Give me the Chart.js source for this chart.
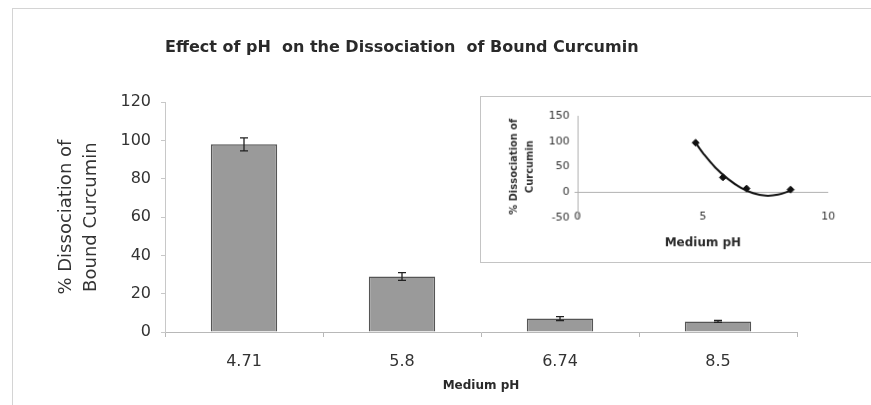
<!DOCTYPE html>
<html>
<head>
<meta charset="utf-8">
<script src="https://cdn.jsdelivr.net/npm/chart.js@4.4.1/dist/chart.umd.min.js"></script>
<style>
  body { margin: 0; background: #fff; }
  #wrap { position: relative; width: 871px; height: 405px; overflow: hidden; }
  #frame { position: absolute; left: 12px; top: 8px; width: 900px; height: 440px; border: 1px solid #d4d4d4; }
  #main { position: absolute; left: 0; top: 0; }
  #inset { position: absolute; left: 480px; top: 96px; background: #fff; border: 1px solid #c4c4c4; }
</style>
</head>
<body>
<div id="wrap">
  <div id="frame"></div>
  <canvas id="main" width="871" height="405"></canvas>
  <canvas id="inset" width="392" height="167"></canvas>
</div>
<script>
'use strict';
// main bars
let phLabels = ['4.71', '5.8', '6.74', '8.5']
let dissociation = [98, 29, 7, 5.5]
let errors = [3.4, 2, 1, 0.5]
let yTicks = [0, 20, 40, 60, 80, 100, 120]

let insetPh = [4.71, 5.8, 6.74, 8.5]
let insetVals = [97, 29, 7, 5]
let trendPh = [4.71, 5.0, 5.5, 6.0, 6.5, 7.0, 7.5, 8.0, 8.5]
let trendVals = [97, 77, 48, 26, 9, -2, -7, -5, 3]

let font = '"DejaVu Sans", Arial, sans-serif'

const errorBars = {
  id: 'errorBars',
  afterDatasetsDraw(chart) {
    let ctx = chart.ctx
    let y = chart.scales.y
    let meta = chart.getDatasetMeta(0)
    ctx.save()
    ctx.strokeStyle = '#222'
    ctx.lineWidth = 1.3
    meta.data.forEach((bar, i) => {
      let top = y.getPixelForValue(dissociation[i] + errors[i])
      let bot = y.getPixelForValue(dissociation[i] - errors[i])
      ctx.beginPath()
      ctx.moveTo(bar.x, top); ctx.lineTo(bar.x, bot)
      ctx.moveTo(bar.x - 4, top); ctx.lineTo(bar.x + 4, top)
      ctx.moveTo(bar.x - 4, bot); ctx.lineTo(bar.x + 4, bot)
      ctx.stroke()
    })
    ctx.restore()
  }
}

new Chart(document.getElementById('main'), {
  type: 'bar',
  data: {
    labels: phLabels,
    datasets: [{
      data: dissociation,
      backgroundColor: '#9a9a9a',
      borderColor: '#555',
      borderWidth: 1.5,
      categoryPercentage: 1,
      barPercentage: 0.42
    }]
  },
  options: {
    responsive: false,
    animation: false,
    layout: { padding: { left: 15, right: 74, bottom: 8 } },
    plugins: {
      legend: { display: false },
      tooltip: { enabled: false },
      title: {
        display: true,
        text: 'Effect of pH  on the Dissociation  of Bound Curcumin',
        align: 'start',
        fullSize: false,
        color: '#2a2a2a',
        font: { family: font, size: 16, weight: 'bold' },
        padding: { top: 38, bottom: 45 }
      }
    },
    scales: {
      x: {
        grid: { offset: true, drawOnChartArea: false, tickLength: 5, color: '#b8b8b8' },
        border: { color: '#b8b8b8' },
        ticks: { color: '#333', font: { family: font, size: 16 }, padding: 15 },
        title: {
          display: true, text: 'Medium pH', color: '#2a2a2a',
          font: { family: font, size: 12, weight: 'bold' }, padding: { top: 9 }
        },
        afterFit: s => { s.height = 65 }
      },
      y: {
        min: 0, max: 120,
        afterBuildTicks: s => { s.ticks = yTicks.map(v => ({ value: v })) },
        grid: { drawOnChartArea: false, tickLength: 4, color: '#c8c8c8' },
        border: { color: '#c8c8c8' },
        ticks: { color: '#333', font: { family: font, size: 16 }, padding: 10 },
        title: {
          display: true, text: ['% Dissociation of', 'Bound Curcumin'], color: '#333',
          font: { family: font, size: 18, lineHeight: 1.4 }, padding: { top: 39, bottom: 0 }
        },
        afterFit: s => { s.width = 150 }
      }
    }
  },
  plugins: [errorBars]
})

new Chart(document.getElementById('inset'), {
  type: 'scatter',
  data: {
    datasets: [{
      data: insetPh.map((p, i) => ({ x: p, y: insetVals[i] })),
      pointStyle: 'rectRot',
      pointRadius: 3.5,
      backgroundColor: '#111',
      borderColor: '#111',
      showLine: false
    }, {
      data: trendPh.map((p, i) => ({ x: p, y: trendVals[i] })),
      showLine: true,
      pointRadius: 0,
      borderColor: '#111',
      borderWidth: 2,
      tension: 0.4
    }]
  },
  options: {
    responsive: false,
    animation: false,
    layout: { padding: { top: 19, right: 43, left: 0, bottom: 8 } },
    plugins: { legend: { display: false }, tooltip: { enabled: false } },
    scales: {
      x: {
        type: 'linear', min: 0, max: 10,
        ticks: { stepSize: 5, color: '#333', font: { family: font, size: 11 }, mirror: true, padding: -6 },
        grid: { display: false, drawTicks: false },
        border: { display: false },
        title: {
          display: true, text: 'Medium pH', color: '#2a2a2a',
          font: { family: font, size: 12, weight: 'bold' }, padding: { top: 0, bottom: 4 }
        },
        afterFit: s => { s.height = 37 }
      },
      y: {
        min: -50, max: 150,
        ticks: { stepSize: 50, color: '#333', font: { family: font, size: 11 }, padding: 5 },
        grid: {
          drawOnChartArea: true, tickLength: 3,
          color: c => c.tick && c.tick.value === 0 ? '#b0b0b0' : 'rgba(0,0,0,0)'
        },
        border: { color: '#b0b0b0' },
        title: {
          display: true, text: ['% Dissociation of', 'Curcumin'], color: '#333',
          font: { family: font, size: 10, weight: 'bold', lineHeight: 1.6 }, padding: { top: 25, bottom: 0 }
        },
        afterFit: s => { s.width = 97 }
      }
    }
  }
})
</script>
</body>
</html>
